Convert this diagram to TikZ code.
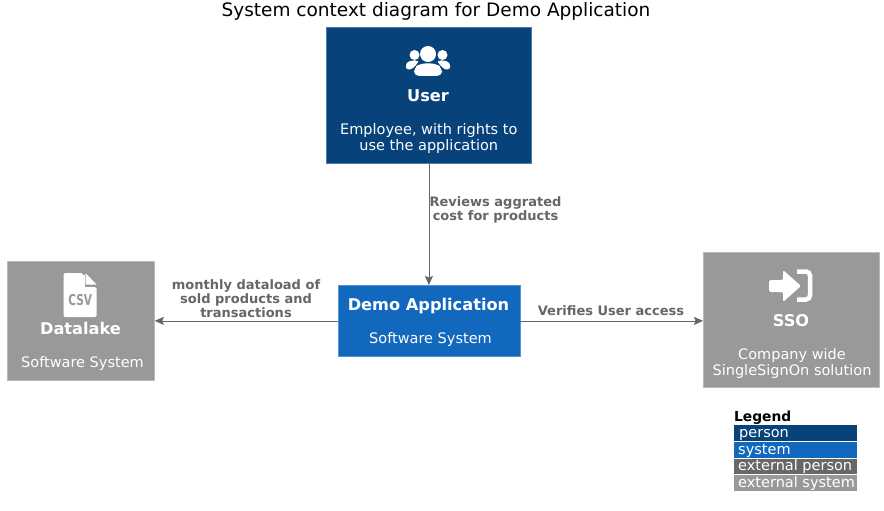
\documentclass[tikz,border=0pt]{standalone}
\usepackage{fontspec}
\setmainfont{DejaVu Sans}
\usepackage{tikz}
\usetikzlibrary{arrows.meta}
\usetikzlibrary{positioning}
\definecolor{PersonBlue}{RGB}{8,66,123}
\definecolor{SystemBlue}{RGB}{17,104,189}
\definecolor{ExtPerson}{RGB}{104,104,104}
\definecolor{ExtSystem}{RGB}{153,153,153}
\definecolor{LineGrey}{RGB}{102,102,102}
\tikzset{
	box/.style={draw=#1!70!white, line width=0.8pt, fill=#1, inner sep=0pt, anchor=north west},
	boxtitle/.style={text=white, font=\fontsize{16.2}{18}\selectfont\bfseries, inner sep=0pt},
	boxtext/.style={text=white, font=\fontsize{14.5}{16}\selectfont, align=center, inner sep=0pt},
	rel/.style={draw=LineGrey, line width=0.7pt, -{Stealth[length=9pt,width=8pt,inset=1.5pt]}},
	rellabel/.style={text=LineGrey, font=\fontsize{13}{14}\selectfont\bfseries, align=center, inner sep=0pt},
	legendrow/.style={fill=#1, text=white, minimum width=123pt, minimum height=15.6pt, inner sep=0pt, anchor=north west},
	legendtext/.style={text=white, font=\fontsize{14.5}{16}\selectfont, inner sep=0pt, anchor=base west},
}
\begin{document}
\begin{tikzpicture}[x=1pt,y=-1pt]
		\useasboundingbox (0,0) rectangle (884,511);
		\node (title) at (436,11) [font=\fontsize{18.5}{20}\selectfont, inner sep=0pt] {System context diagram for Demo Application};
		
		% boxes
		\node (user) at (326,27) [box=PersonBlue, minimum width=205pt, minimum height=136pt] {};
		\node (demo) at (337.5,285) [box=SystemBlue, minimum width=182pt, minimum height=71pt] {};
		\node (datalake) at (7,261) [box=ExtSystem, minimum width=147pt, minimum height=119pt] {};
		\node (sso) at (703,252) [box=ExtSystem, minimum width=176pt, minimum height=135pt] {};
		
		% texts in the boxes
		\node (usertitle) at (428,95.5) [boxtitle] {User};
		\node (usertext) at (428.8,138.2) [boxtext] {Employee, with rights to\\use the application};
		\node (demotitle) at (428.5,306) [boxtitle] {Demo Application};
		\node (demotext) at (430.5,339.7) [boxtext] {Software System};
		\node (datalaketitle) at (80.5,328.5) [boxtitle] {Datalake};
		\node (datalaketext) at (82.5,363.7) [boxtext] {Software System};
		\node (ssotitle) at (791,320.5) [boxtitle] {SSO};
		\node (ssotext) at (792,363.7) [boxtext] {Company wide\\SingleSignOn solution};
		
		% user icon
		\fill [white] (428,54) circle [radius=8];
		\fill [white] (414.5,55) circle [radius=5];
		\fill [white] (442.5,55) circle [radius=5];
		\fill [white, rounded corners=5pt] (414,76) -- (414,68) -- (420,63.5) -- (436,63.5) -- (442,68) -- (442,76) -- cycle;
		\fill [white, rounded corners=2.5pt] (411.5,69.5) -- (406,69.5) -- (406,63) -- (411,60.5) -- (418,60.5) -- (418,63) -- cycle;
		\fill [white, rounded corners=2.5pt] (444.5,69.5) -- (450,69.5) -- (450,63) -- (445,60.5) -- (438,60.5) -- (438,63) -- cycle;
		
		% csv icon
		\fill [white, rounded corners=1.5pt] (63.5,273) -- (83,273) -- (83,287) -- (96.5,287) -- (96.5,317) -- (63.5,317) -- cycle;
		\fill [white] (83,275) rectangle (85,288);
		\fill [white] (85.5,273) -- (96.5,284.5) -- (85.5,284.5) -- cycle;
		\node (csv) at (80.2,300.5) [text=ExtSystem, font=\fontsize{12.5}{13}\selectfont\bfseries, inner sep=0pt, xscale=0.85, yscale=1.2] {CSV};
		
		% sign-in icon
		\fill [white, rounded corners=1.5pt] (769,280) -- (783,280) -- (783,270) -- (801,286) -- (783,302) -- (783,292) -- (769,292) -- cycle;
		\draw [white, line width=4.5pt, rounded corners=4pt] (797,271.5) -- (810,271.5) -- (810,299.5) -- (797,299.5);
		
		% connectors
		\draw [rel] (user) -- (demo);
		\draw [rel] (demo.west) -- (datalake.east |- demo.west);
		\draw [rel] (demo.east) -- (sso.west |- demo.east);
		\node (reviews) at (495.5,209.6) [rellabel] {Reviews aggrated\\cost for products};
		\node (monthly) at (246,298.5) [rellabel] {monthly dataload of\\sold products and\\transactions};
		\node (verifies) at (611,310.7) [rellabel] {Verifies User access};
		
		% legend
		\node (legendtitle) at (734,417.5) [anchor=west, font=\fontsize{13.8}{15}\selectfont\bfseries, inner sep=0pt] {Legend};
		\node (person) at (734,425.2) [legendrow=PersonBlue] {};
		\node (system) [legendrow=SystemBlue, below=0.6pt of person.south west, anchor=north west] {};
		\node (extperson) [legendrow=ExtPerson, below=0.6pt of system.south west, anchor=north west] {};
		\node (extsystem) [legendrow=ExtSystem, below=0.6pt of extperson.south west, anchor=north west] {};
		\node at ([xshift=5pt,yshift=-4.6pt]person.west) [legendtext] {person};
		\node at ([xshift=4pt,yshift=-4.6pt]system.west) [legendtext] {system};
		\node at ([xshift=4pt,yshift=-4pt]extperson.west) [legendtext] {external person};
		\node at ([xshift=4pt,yshift=-4pt]extsystem.west) [legendtext] {external system};
	\end{tikzpicture}
\end{document}
